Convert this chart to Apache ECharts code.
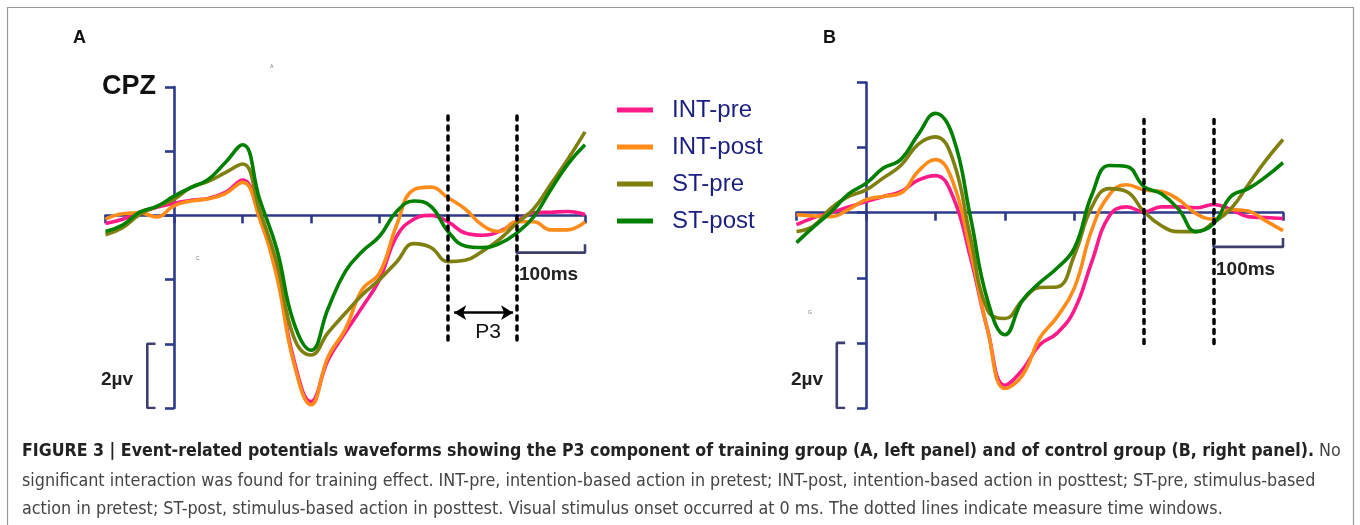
<!DOCTYPE html>
<html>
<head>
<meta charset="utf-8">
<title>ERP P3</title>
<script src="https://cdn.jsdelivr.net/npm/echarts@6/dist/echarts.min.js"></script>
<style>
  html, body { margin: 0; padding: 0; background: #fff; }
  #main { width: 1360px; height: 525px; }
</style>
</head>
<body>
<div id="main"></div>
<script>
// time points (ms), same for both panels
var times = [-100, -75, -50, -25, 0, 25, 50, 75, 100, 125, 150, 175, 200, 225, 250,
             275, 300, 325, 350, 375, 400, 425, 450, 475, 500, 525, 550, 575, 600];

// panel A - training group (uV)
var intPreA  = [-0.25, -0.12, 0.1, 0.25, 0.38, 0.47, 0.53, 0.72, 1.1, -0.05, -1.8, -4.5, -5.8, -4.5, -3.65,
                -2.85, -2.0, -0.65, -0.12, 0, -0.2, -0.55, -0.62, -0.5, -0.2, 0.08, 0.1, 0.12, 0.03];
var intPostA = [-0.12, 0.05, 0.08, -0.05, 0.3, 0.45, 0.52, 0.68, 1.03, -0.1, -1.9, -4.6, -5.9, -4.4, -3.55,
                -2.3, -1.8, -0.3, 0.8, 0.88, 0.55, 0.2, -0.3, -0.5, -0.2, -0.2, -0.45, -0.45, -0.2];
var stPreA   = [-0.6, -0.38, 0.03, 0.28, 0.5, 0.87, 1.06, 1.33, 1.6, 0.15, -1.47, -3.8, -4.35, -3.65, -3.05,
                -2.47, -2.0, -1.45, -0.88, -1.0, -1.44, -1.4, -1.12, -0.75, -0.25, 0.2, 0.97, 1.75, 2.6];
var stPostA  = [-0.5, -0.3, 0.1, 0.28, 0.6, 0.87, 1.12, 1.65, 2.2, 0.5, -1.05, -3.35, -4.2, -2.9, -1.75,
                -1.12, -0.65, 0.12, 0.45, 0.28, -0.5, -0.95, -1.0, -0.88, -0.55, -0.05, 0.8, 1.6, 2.2];

// panel B - control group (uV)
var intPreB  = [-0.37, -0.15, 0, 0.18, 0.34, 0.5, 0.65, 1.0, 1.14, 0.5, -1.35, -3.6, -5.3, -4.83, -4.06,
                -3.7, -2.98, -1.5, -0.1, 0.18, 0.03, 0.18, 0.18, 0.15, 0.25, 0.1, -0.12, -0.15, -0.18];
var intPostB = [-0.06, -0.1, -0.12, 0.1, 0.4, 0.5, 0.6, 1.27, 1.63, 0.95, -1.15, -3.6, -5.4, -5.0, -3.85,
                -3.2, -2.3, -0.52, 0.55, 0.86, 0.7, 0.65, 0.4, -0.03, -0.2, 0.1, 0.05, -0.25, -0.55];
var stPreB   = [-0.58, -0.4, 0.15, 0.5, 0.7, 1.07, 1.45, 2.1, 2.33, 1.63, -0.73, -3.0, -3.25, -2.7, -2.3,
                -2.28, -1.3, 0.18, 0.74, 0.65, 0.03, -0.4, -0.58, -0.58, -0.3, 0.12, 0.86, 1.6, 2.25];
var stPostB  = [-0.92, -0.43, 0.03, 0.58, 0.9, 1.37, 1.63, 2.4, 3.05, 2.35, -0.1, -2.7, -3.75, -2.7, -2.15,
                -1.7, -1.08, 0.55, 1.45, 1.42, 0.8, 0.58, 0.1, -0.58, -0.34, 0.5, 0.74, 1.1, 1.54];

var names  = ['INT-pre', 'INT-post', 'ST-pre', 'ST-post'];
var colors = ['#ff1a8a', '#ff8c1a', '#808010', '#008000'];

// measure windows (ms) and annotation extents
var windowMs = [400, 500];
var scaleBar = [500, 600];

var axisColor = '#2d3a8a';
var barColor = '#3b3e6e';

function pairs(ys) {
  return times.map(function (t, i) { return [t, ys[i]]; });
}

var myChart = echarts.init(document.getElementById('main'));

function wave(name, color, ys, idx) {
  return {
    name: name, type: 'line', xAxisIndex: idx, yAxisIndex: idx,
    data: pairs(ys), smooth: 0.45, showSymbol: false, silent: true,
    lineStyle: { color: color, width: 3.6 }, itemStyle: { color: color }
  };
}

function dotted(idx, top, bottom) {
  return {
    name: 'win' + idx, type: 'line', xAxisIndex: idx, yAxisIndex: idx, data: [], silent: true,
    markLine: {
      silent: true, symbol: 'none', label: { show: false }, animation: false,
      lineStyle: { color: '#000', width: 3.5, type: [4, 6], cap: 'round' },
      data: windowMs.map(function (t) { return [{ coord: [t, top] }, { coord: [t, bottom] }]; })
    }
  };
}

function bracket(idx, pts) {
  return {
    name: 'bar' + idx, type: 'line', xAxisIndex: idx, yAxisIndex: idx, data: pts,
    showSymbol: false, silent: true, lineStyle: { color: barColor, width: 2.6 }
  };
}

var series = [
  wave(names[0], colors[0], intPreA, 0),
  wave(names[1], colors[1], intPostA, 0),
  wave(names[2], colors[2], stPreA, 0),
  wave(names[3], colors[3], stPostA, 0),
  wave(names[0], colors[0], intPreB, 1),
  wave(names[1], colors[1], intPostB, 1),
  wave(names[2], colors[2], stPreB, 1),
  wave(names[3], colors[3], stPostB, 1),
  dotted(0, 3.1, -4.03),
  dotted(1, 2.86, -4.12),
  bracket(0, [[scaleBar[0], -0.9], [scaleBar[0], -1.16], [scaleBar[1], -1.16], [scaleBar[1], -0.9]]),
  bracket(1, [[scaleBar[0], -0.78], [scaleBar[0], -1.05], [scaleBar[1], -1.05], [scaleBar[1], -0.78]]),
  bracket(0, [[-27, -4], [-39, -4], [-39, -6], [-27, -6]]),
  bracket(1, [[-30, -4], [-42, -4], [-42, -6], [-30, -6]]),
  {
    name: 'p3', type: 'line', xAxisIndex: 0, yAxisIndex: 0, data: [], silent: true,
    markLine: {
      silent: true, symbol: ['arrow', 'arrow'], symbolSize: [11, 12], label: { show: false },
      animation: false, lineStyle: { color: '#000', width: 2.5, type: 'solid' },
      data: [[{ coord: [409, -3.03] }, { coord: [495, -3.03] }]]
    }
  }
];

function xAx(idx) {
  return {
    type: 'value', gridIndex: idx, min: -100, max: 600, interval: 100,
    axisLine: { onZero: true, lineStyle: { color: axisColor, width: 2.6 } },
    axisTick: { length: 8, lineStyle: { color: axisColor, width: 2.6 } },
    axisLabel: { show: false }, splitLine: { show: false }
  };
}
function yAx(idx) {
  return {
    type: 'value', gridIndex: idx, min: -6, max: 4, interval: 2,
    axisLine: { onZero: true, lineStyle: { color: axisColor, width: 2.6 } },
    axisTick: { length: 9, lineStyle: { color: axisColor, width: 2.6 } },
    axisLabel: { show: false }, splitLine: { show: false }
  };
}

function txt(x, y, s, size, weight, color, align) {
  return {
    type: 'text', x: x, y: y, silent: true,
    style: {
      text: s, fontSize: size, fontWeight: weight || 'normal', fill: color || '#111',
      fontFamily: 'Liberation Sans, Arial, sans-serif',
      align: align || 'left', verticalAlign: 'middle'
    }
  };
}

var capFont = '"DejaVu Sans Condensed", "Liberation Sans Narrow", sans-serif';
function capLine(y, s) {
  return {
    type: 'text', x: 22, y: y, silent: true,
    style: {
      text: s, fontFamily: capFont, fontSize: 17.8, fill: '#444', verticalAlign: 'middle',
      rich: {
        b: { fontFamily: capFont, fontSize: 17.6, fontWeight: 'bold', fill: '#222' },
        n: { fontFamily: capFont, fontSize: 17.8, fill: '#444' }
      }
    }
  };
}

myChart.setOption({
  animation: false,
  legend: {
    data: names, orient: 'vertical', left: 617, top: 98, itemGap: 13, padding: 0,
    icon: 'rect', itemWidth: 36, itemHeight: 5, selectedMode: false,
    textStyle: { fontSize: 24, color: '#1a1f80', fontFamily: 'Liberation Sans, Arial, sans-serif', padding: [0, 0, 0, 14] }
  },
  grid: [
    { left: 105.5, top: 87, width: 479.5, height: 321 },
    { left: 796.5, top: 82.5, width: 486.5, height: 325.5 }
  ],
  xAxis: [xAx(0), xAx(1)],
  yAxis: [yAx(0), yAx(1)],
  series: series,
  graphic: [
    { type: 'rect', silent: true, shape: { x: 7.5, y: 7.5, width: 1346, height: 540 },
      style: { fill: 'none', stroke: '#999', lineWidth: 1.2 } },
    txt(73, 38, 'A', 18, 'bold', '#111'),
    txt(823, 38, 'B', 18, 'bold', '#111'),
    txt(102, 87, 'CPZ', 27, 'bold', '#111'),
    txt(101, 380, '2\u00b5v', 19, 'bold', '#222'),
    txt(791, 380, '2\u00b5v', 19, 'bold', '#222'),
    txt(519, 275, '100ms', 19, 'bold', '#222'),
    txt(1216, 270, '100ms', 19, 'bold', '#222'),
    txt(488, 332, 'P3', 21, 'normal', '#111', 'center'),
    txt(270, 67, 'A', 5, 'normal', '#777'),
    txt(196, 259, 'C', 5, 'normal', '#777'),
    txt(808, 313, 'G', 5, 'normal', '#777'),
    capLine(451, '{b|FIGURE 3 | Event-related potentials waveforms showing the P3 component of training group (A, left panel) and of control group (B, right panel).}{n| No}'),
    capLine(481, '{n|significant interaction was found for training effect. INT-pre, intention-based action in pretest; INT-post, intention-based action in posttest; ST-pre, stimulus-based}'),
    capLine(509, '{n|action in pretest; ST-post, stimulus-based action in posttest. Visual stimulus onset occurred at 0 ms. The dotted lines indicate measure time windows.}')
  ]
});
</script>
</body>
</html>
